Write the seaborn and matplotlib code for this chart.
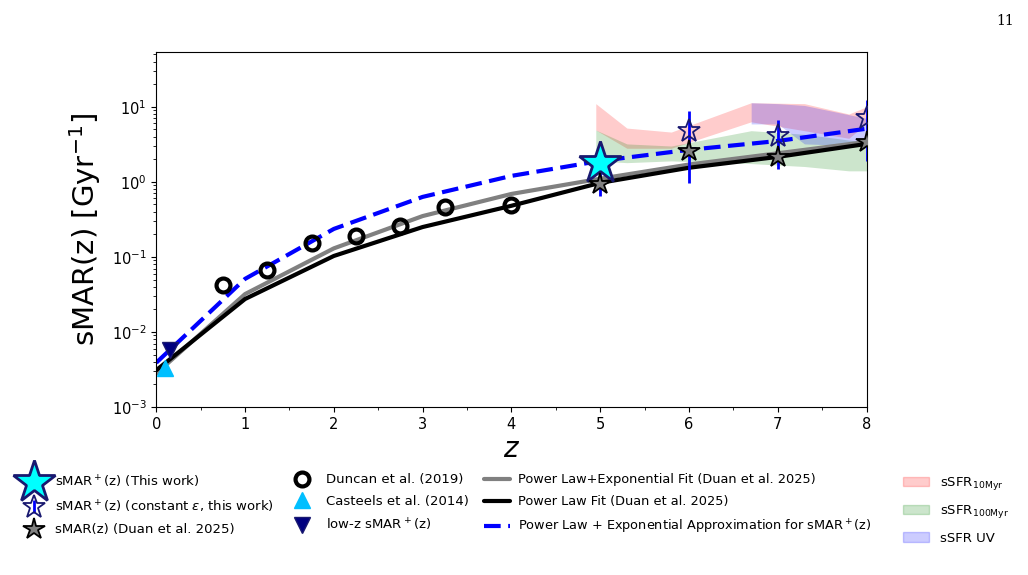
import numpy as np
import pandas as pd
import matplotlib
matplotlib.use("Agg")
import matplotlib.pyplot as plt
import seaborn as sns
from matplotlib.patches import Patch
from matplotlib.lines import Line2D

# fits (sampled at integer z)
z_fit = [0, 1, 2, 3, 4, 5, 6, 7, 8]
pl_fit = [0.0031, 0.0275, 0.103, 0.25, 0.48, 0.97, 1.54, 2.15, 3.2]
plexp_fit = [0.0028, 0.032, 0.13, 0.35, 0.69, 1.1, 1.7, 2.4, 3.4]
approx_fit = [0.0039, 0.051, 0.236, 0.63, 1.2, 1.9, 2.67, 3.5, 5.1]

# Duncan et al. (2019)
z_duncan = [0.75, 1.25, 1.75, 2.25, 2.75, 3.25, 4.0]
smar_duncan = [0.042, 0.067, 0.154, 0.19, 0.26, 0.46, 0.49]

# Casteels / low-z
z_casteels = [0.1]
smar_casteels = [0.0033]
z_lowz = [0.15]
smar_lowz = [0.0058]

# this work
z_this = [5]
smar_this = [1.79]
z_const = [5, 6, 7, 8]
smar_const = [1.79, 4.8, 4.1, 7.1]
err_lo = [1.14, 3.83, 2.61, 5.2]
err_hi = [0.5, 4.1, 2.6, 5.3]

# Duan et al. 2025 stars
z_duan = [5, 6, 7, 8]
smar_duan = [0.94, 2.6, 2.15, 3.4]

# sSFR bands
z_10 = [4.95, 5.3, 5.8, 6.7, 7.3, 7.8, 8.0]
lo_10 = [4.9, 2.8, 2.8, 6.3, 4.8, 3.8, 6.0]
hi_10 = [11.0, 5.2, 4.6, 11.3, 11.0, 8.0, 10.0]
z_100 = [4.95, 5.3, 5.8, 6.7, 7.3, 7.8, 8.0]
lo_100 = [1.9, 1.8, 1.9, 1.75, 1.6, 1.4, 1.4]
hi_100 = [4.9, 3.2, 3.0, 4.8, 4.3, 3.6, 3.4]
z_uv = [6.7, 7.0, 7.3, 8.0]
lo_uv = [5.9, 5.9, 3.2, 3.0]
hi_uv = [11.3, 11.0, 10.4, 7.0]

sns.set_style("ticks")
plt.rcParams['font.family'] = ['DejaVu Sans']
plt.rcParams.update({'text.color': 'black', 'axes.labelcolor': 'black',
                     'xtick.color': 'black', 'ytick.color': 'black',
                     'axes.edgecolor': 'black'})

fig = plt.figure(figsize=(10.28, 5.75), dpi=100)
ax = fig.add_axes([0.152, 0.292, 0.691, 0.618])

ax.fill_between(z_10, lo_10, hi_10, color='red', alpha=0.2, lw=0)
ax.fill_between(z_100, lo_100, hi_100, color='green', alpha=0.2, lw=0)
ax.fill_between(z_uv, lo_uv, hi_uv, color='blue', alpha=0.2, lw=0)

dash = (0, (4, 1.8))
fits = pd.DataFrame({'z': z_fit, 'pl': pl_fit, 'plexp': plexp_fit, 'approx': approx_fit})
sns.lineplot(data=fits, x='z', y='plexp', color='gray', lw=3, ax=ax)
sns.lineplot(data=fits, x='z', y='pl', color='black', lw=3, ax=ax)
sns.lineplot(data=fits, x='z', y='approx', color='blue', lw=3, ax=ax, linestyle=dash)

h_duncan, = ax.plot(z_duncan, smar_duncan, 'o', ms=10, mfc='none', mec='black', mew=3, zorder=5)
h_cast, = ax.plot(z_casteels, smar_casteels, '^', ms=12, color='deepskyblue', zorder=5)
h_lowz, = ax.plot(z_lowz, smar_lowz, 'v', ms=12, color='navy', mec='midnightblue', zorder=5)

h_const = ax.errorbar(z_const, smar_const, yerr=[err_lo, err_hi], fmt='*', ms=17,
                      mfc='none', mec='midnightblue', mew=1.3, ecolor='blue', elinewidth=2, zorder=6)
h_this, = ax.plot(z_this, smar_this, '*', ms=32, mfc='cyan', mec='midnightblue', mew=2, zorder=7)
h_duan, = ax.plot(z_duan, smar_duan, '*', ms=16, mfc='gray', mec='black', mew=1.3, zorder=8)

ax.set_yscale('log')
ax.set_xlim(0, 8)
ax.set_ylim(1e-3, 54)
ax.xaxis.set_minor_locator(matplotlib.ticker.MultipleLocator(0.5))
ax.tick_params(axis='both', which='major', labelsize=10.5)
ax.set_xlabel('$z$', fontsize=20, labelpad=2)
ax.set_ylabel('sMAR(z) [Gyr$^{-1}$]', fontsize=21, labelpad=6)

h_plexp = Line2D([], [], color='gray', lw=3)
h_pl = Line2D([], [], color='black', lw=3)
h_approx = Line2D([], [], color='blue', lw=3, linestyle=dash)

kw = dict(frameon=False, loc='upper left', borderpad=0)
leg1 = fig.legend([h_this, h_const, h_duan],
                  ['sMAR$^+$(z) (This work)', 'sMAR$^+$(z) (constant $\\epsilon$, this work)',
                   'sMAR(z) (Duan et al. 2025)'],
                  bbox_to_anchor=(0.014, 0.188), handletextpad=0.55, fontsize=9.5,
                  labelspacing=0.65, **kw)
leg2 = fig.legend([h_duncan, h_cast, h_lowz],
                  ['Duncan et al. (2019)', 'Casteels et al. (2014)', 'low-z sMAR$^+$(z)'],
                  bbox_to_anchor=(0.275, 0.188), fontsize=9.5, labelspacing=0.65, **kw)
leg3 = fig.legend([h_plexp, h_pl, h_approx],
                  ['Power Law+Exponential Fit (Duan et al. 2025)', 'Power Law Fit (Duan et al. 2025)',
                   'Power Law + Exponential Approximation for sMAR$^+$(z)'],
                  bbox_to_anchor=(0.465, 0.188), handletextpad=0.6, fontsize=9.3,
                  labelspacing=0.7, **kw)
leg4 = fig.legend([Patch(color='red', alpha=0.2), Patch(color='green', alpha=0.2),
                   Patch(color='blue', alpha=0.2)],
                  ['sSFR$_{\\rm 10Myr}$', 'sSFR$_{\\rm 100Myr}$', 'sSFR UV'],
                  bbox_to_anchor=(0.872, 0.185), fontsize=9.5, labelspacing=0.85, **kw)

fig.text(0.986, 0.975, '11', ha='right', va='top', fontsize=10, family='DejaVu Serif')

plt.savefig('out.png', dpi=100)
plt.close()
